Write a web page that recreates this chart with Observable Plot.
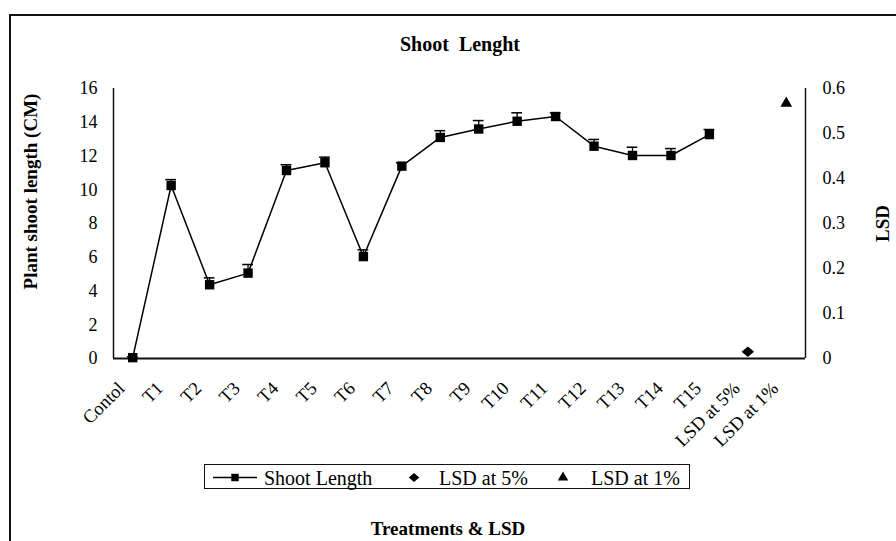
<!DOCTYPE html>
<html>
<head>
<meta charset="utf-8">
<script src="https://cdn.jsdelivr.net/npm/d3@7"></script>
<script src="https://cdn.jsdelivr.net/npm/@observablehq/plot@0.6"></script>
<style>
  html, body { margin: 0; padding: 0; background: white; }
  #wrap { position: relative; width: 896px; height: 541px; overflow: hidden; background: white;
          font-family: "Liberation Serif", "Times New Roman", serif; color: black; }
  #border { position: absolute; left: 9px; top: 14px; width: 1000px; height: 1000px;
            border-left: 2px solid #111; border-top: 2px solid #111; }
  .abs { position: absolute; white-space: pre; }
  .bold { font-weight: bold; }
  #plot { position: absolute; left: 0; top: 60px; }
  #legend { position: absolute; left: 204px; top: 464px; width: 484px; height: 23px; border: 1.5px solid #111; }
</style>
</head>
<body>
<div id="wrap">
  <div id="border"></div>
  <div id="plot"></div>
</div>
<script>
// ---- data ----
const categories = ["Contol","T1","T2","T3","T4","T5","T6","T7","T8","T9","T10","T11","T12","T13","T14","T15","LSD at 5%","LSD at 1%"];
const treatments = ["Contol","T1","T2","T3","T4","T5","T6","T7","T8","T9","T10","T11","T12","T13","T14","T15"];
const shootLength = [0.05, 10.25, 4.37, 5.06, 11.14, 11.6, 6.04, 11.4, 13.1, 13.6, 14.06, 14.34, 12.58, 12.03, 12.03, 13.27];
const shootError  = [0.05, 0.35, 0.41, 0.51, 0.34, 0.33, 0.40, 0.20, 0.40, 0.50, 0.50, 0.22, 0.40, 0.49, 0.41, 0.30];
const lsdNames  = ["LSD at 5%", "LSD at 1%"];
const lsdValues = [0.015, 0.567];
const leftTicks  = [0, 2, 4, 6, 8, 10, 12, 14, 16];
const rightTicks = [0, 0.1, 0.2, 0.3, 0.4, 0.5, 0.6];
const titleText = "Shoot  Lenght";
const yLabel = "Plant shoot length (CM)";
const y2Label = "LSD";
const xLabel = "Treatments & LSD";
const legendLabels = ["Shoot Length", "LSD at 5%", "LSD at 1%"];

// ---- scales ----
const yMax = leftTicks[leftTicks.length - 1];
const y2Max = rightTicks[rightTicks.length - 1];
const ratio = yMax / y2Max;
const xDomain = [-0.5, categories.length - 0.5];
const idx = name => categories.indexOf(name);

const diamond = {
  draw(ctx, size) {
    const h = Math.sqrt(size / 2);
    ctx.moveTo(0, -h * 0.92); ctx.lineTo(h * 1.08, 0); ctx.lineTo(0, h * 0.92); ctx.lineTo(-h * 1.08, 0); ctx.closePath();
  }
};

const font = "'Liberation Serif', 'Times New Roman', serif";
const capHalf = 0.14;

const chart = Plot.plot({
  width: 896,
  height: 400,
  marginTop: 28,
  marginBottom: 102,
  marginLeft: 113,
  marginRight: 91,
  style: { background: "transparent", fontFamily: font, fontSize: "18px", color: "black", overflow: "visible" },
  x: { domain: xDomain, axis: null },
  y: { domain: [0, yMax] },
  marks: [
    Plot.axisY(leftTicks, { anchor: "left", tickSize: 0, tickPadding: 16, label: null, fontSize: 18 }),
    Plot.axisY(rightTicks.map(v => v * ratio), { anchor: "right", tickSize: 0, tickPadding: 17, label: null, fontSize: 18,
      tickFormat: d => String(Math.round(d / ratio * 10) / 10) }),
    Plot.ruleX(xDomain, { y1: 0, y2: yMax, stroke: "#111", strokeWidth: 1.5 }),
    Plot.ruleY([0], { stroke: "#111", strokeWidth: 2 }),
    Plot.text(categories, { x: (d, i) => i, text: d => d, frameAnchor: "bottom", rotate: -45, textAnchor: "end",
      dx: -7, dy: 31, fontSize: 18.5 }),
    Plot.ruleX(shootLength, { x: (d, i) => idx(treatments[i]), y1: d => d, y2: (d, i) => d + shootError[i], stroke: "black", strokeWidth: 1.3 }),
    Plot.ruleY(shootLength, { y: (d, i) => d + shootError[i], x1: (d, i) => idx(treatments[i]) - capHalf, x2: (d, i) => idx(treatments[i]) + capHalf, stroke: "black", strokeWidth: 1.5 }),
    Plot.line(shootLength, { x: (d, i) => idx(treatments[i]), y: d => d, stroke: "black", strokeWidth: 1.5 }),
    Plot.dot(shootLength, { x: (d, i) => idx(treatments[i]), y: d => d, symbol: "square", r: 5.3, fill: "black", stroke: "none" }),
    Plot.dot([lsdValues[0]], { x: () => idx(lsdNames[0]), y: d => d * ratio, symbol: diamond, r: 4.6, fill: "black", stroke: "none" }),
    Plot.dot([lsdValues[1]], { x: () => idx(lsdNames[1]), y: d => d * ratio, symbol: "triangle", r: 4.35, fill: "black", stroke: "none" })
  ]
});
document.getElementById("plot").appendChild(chart);

// ---- texts ----
const wrap = document.getElementById("wrap");
function addText(txt, opts) {
  const el = document.createElement("div");
  el.className = "abs" + (opts.bold ? " bold" : "");
  el.textContent = txt;
  el.style.fontSize = opts.size + "px";
  el.style.lineHeight = opts.size + "px";
  el.style.width = opts.width + "px";
  el.style.textAlign = opts.align || "center";
  el.style.left = opts.left + "px";
  el.style.top = opts.top + "px";
  if (opts.rotate) { el.style.transform = "rotate(" + opts.rotate + "deg)"; }
  wrap.appendChild(el);
  return el;
}
addText(titleText, { size: 20, bold: true, width: 300, left: 310, top: 34 });
addText(yLabel, { size: 19, bold: true, width: 300, left: 30 - 150, top: 191 - 9.5, rotate: -90 });
addText(y2Label, { size: 19, bold: true, width: 100, left: 882 - 50, top: 223 - 9.5, rotate: -90 });
addText(xLabel, { size: 19, bold: true, width: 300, left: 448 - 150, top: 519 });

// ---- legend ----
const legend = document.createElement("div");
legend.id = "legend";
wrap.appendChild(legend);
const ns = "http://www.w3.org/2000/svg";
const lsvg = document.createElementNS(ns, "svg");
lsvg.setAttribute("width", 484); lsvg.setAttribute("height", 23);
lsvg.style.position = "absolute"; lsvg.style.left = "0px"; lsvg.style.top = "0px";
legend.appendChild(lsvg);
const cy = 12.5;
function addPath(d, tx) {
  const p = document.createElementNS(ns, "path");
  p.setAttribute("d", d); p.setAttribute("transform", `translate(${tx},${cy})`); p.setAttribute("fill", "black");
  lsvg.appendChild(p);
}
const ln = document.createElementNS(ns, "line");
ln.setAttribute("x1", 8); ln.setAttribute("x2", 52); ln.setAttribute("y1", cy); ln.setAttribute("y2", cy);
ln.setAttribute("stroke", "black"); ln.setAttribute("stroke-width", 1.5);
lsvg.appendChild(ln);
addPath(d3.symbol(d3.symbolSquare, Math.PI * 4.2 * 4.2)(), 30);
addPath(d3.symbol(diamond, Math.PI * 3.9 * 3.9)(), 209);
addPath(d3.symbol(d3.symbolTriangle, Math.PI * 3.9 * 3.9)(), 358);
const legendX = [59, 234, 386];
legendLabels.forEach((t, i) => {
  const s = document.createElement("div");
  s.className = "abs";
  s.textContent = t;
  s.style.fontSize = "20px"; s.style.lineHeight = "20px";
  s.style.left = legendX[i] + "px"; s.style.top = "3px";
  legend.appendChild(s);
});
</script>
</body>
</html>
